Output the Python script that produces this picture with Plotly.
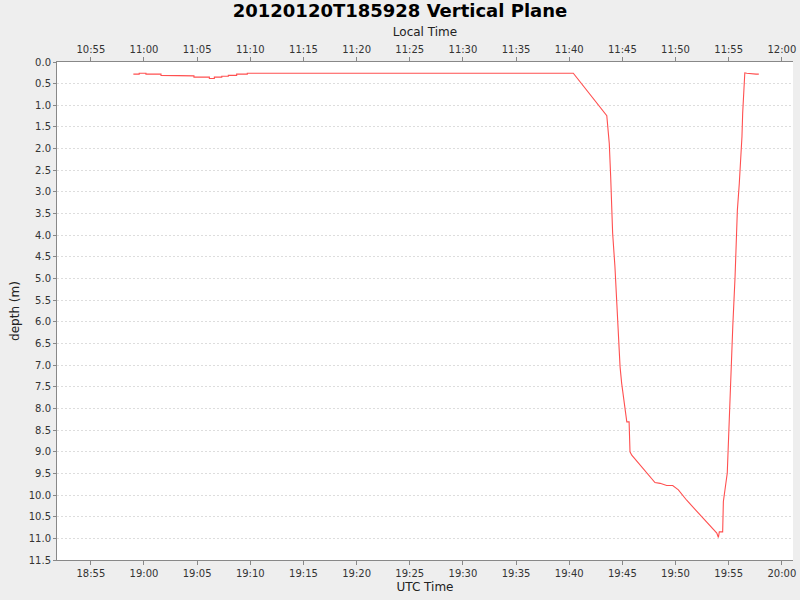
import pandas as pd
import plotly.graph_objects as go

DAY = "2012-01-20"

# UTC time of each sample and depth in metres
utc_times = [
    "18:59:00", "18:59:33", "18:59:33", "19:00:11", "19:00:11", "19:01:36",
    "19:01:36", "19:03:08", "19:03:08", "19:04:42", "19:04:42", "19:06:09",
    "19:06:09", "19:06:37", "19:06:37", "19:07:19", "19:07:19", "19:07:56",
    "19:07:56", "19:08:43", "19:08:43", "19:09:43", "19:09:43",
    "19:40:23", "19:43:32", "19:43:46", "19:43:54", "19:44:05", "19:44:18",
    "19:44:32", "19:44:47", "19:44:56", "19:45:25", "19:45:38", "19:45:43",
    "19:45:53", "19:46:40", "19:48:04", "19:48:33", "19:49:10", "19:49:44",
    "19:50:16", "19:51:03", "19:52:18", "19:53:53", "19:54:02", "19:54:07",
    "19:54:26", "19:54:30", "19:54:52", "19:55:08", "19:55:23", "19:55:36",
    "19:55:49", "19:56:00", "19:56:08", "19:56:15", "19:56:19", "19:56:25",
    "19:56:31", "19:56:42", "19:57:04", "19:57:27", "19:57:34", "19:57:50",
]
depths = [
    0.28, 0.28, 0.26, 0.26, 0.28, 0.28,
    0.31, 0.31, 0.32, 0.32, 0.35, 0.35,
    0.38, 0.38, 0.35, 0.35, 0.33, 0.33,
    0.31, 0.31, 0.28, 0.28, 0.26,
    0.26, 1.24, 1.88, 2.65, 3.95, 4.73,
    5.88, 7.04, 7.42, 8.31, 8.31, 9.00,
    9.08, 9.31, 9.71, 9.73, 9.78, 9.78,
    9.88, 10.12, 10.46, 10.88, 10.98, 10.85,
    10.85, 10.15, 9.49, 7.65, 6.12, 4.96,
    3.42, 2.80, 2.26, 1.72, 1.18, 0.72,
    0.25, 0.26, 0.27, 0.29, 0.28, 0.28,
]

LOCAL_OFFSET = pd.Timedelta(hours=-8)
X_RANGE = ("18:51:49", "20:01:03")

utc = pd.to_datetime([f"{DAY} {t}" for t in utc_times])
local = utc + LOCAL_OFFSET
x0, x1 = (pd.Timestamp(f"{DAY} {t}") for t in X_RANGE)

FONT = "DejaVu Sans"
AXIS_GRAY = "#888888"

fig = go.Figure()
fig.add_trace(
    go.Scatter(
        x=utc, y=depths, mode="lines",
        line=dict(color="#ff5050", width=1.1),
        showlegend=False, hoverinfo="skip",
    )
)
# invisible twin so the local-time axis has a subplot
fig.add_trace(
    go.Scatter(
        x=local, y=depths, mode="lines", xaxis="x2",
        line=dict(width=0), opacity=0,
        showlegend=False, hoverinfo="skip",
    )
)

tick_common = dict(
    type="date",
    tickformat="%H:%M",
    dtick=5 * 60 * 1000,
    showgrid=False,
    zeroline=False,
    showline=True,
    linecolor=AXIS_GRAY,
    linewidth=1,
    ticks="outside",
    ticklen=4,
    tickcolor=AXIS_GRAY,
    automargin=False,
    tickfont=dict(family=FONT, size=10, color="#333333"),
)

fig.update_layout(
    width=800,
    height=600,
    paper_bgcolor="#eeeeee",
    plot_bgcolor="white",
    margin=dict(l=57, r=7, t=62, b=40),
    font=dict(family=FONT, color="#222222"),
    title=dict(
        text="<b>20120120T185928 Vertical Plane</b>",
        x=0.5, xanchor="center", y=0.992, yanchor="top",
        font=dict(family=FONT, size=18, color="black"),
    ),
    xaxis=dict(
        **tick_common,
        range=[x0, x1],
        tick0=f"{DAY} 18:55:00",
        title=dict(text="UTC Time", font=dict(family=FONT, size=12), standoff=4),
    ),
    xaxis2=dict(
        **tick_common,
        overlaying="x",
        side="top",
        anchor="y",
        range=[x0 + LOCAL_OFFSET, x1 + LOCAL_OFFSET],
        tick0=f"{DAY} 10:55:00",
        title=dict(text="Local Time", font=dict(family=FONT, size=12), standoff=4),
    ),
    yaxis=dict(
        range=[11.5, 0],
        tick0=0,
        dtick=0.5,
        tickformat=".1f",
        showgrid=True,
        gridcolor="#dddddd",
        gridwidth=1,
        griddash="2px,2px",
        zeroline=False,
        showline=True,
        linecolor=AXIS_GRAY,
        ticks="outside",
        ticklen=3,
        tickcolor=AXIS_GRAY,
        automargin=False,
        tickfont=dict(family=FONT, size=10, color="#333333"),
        title=dict(text="depth (m)", font=dict(family=FONT, size=12), standoff=6),
    ),
)

# drop the page's default body margin so the figure sits at the window corner
fig.write_html(
    "out.html",
    config={"displayModeBar": False},
    post_script="document.body.style.margin = '0';",
)
